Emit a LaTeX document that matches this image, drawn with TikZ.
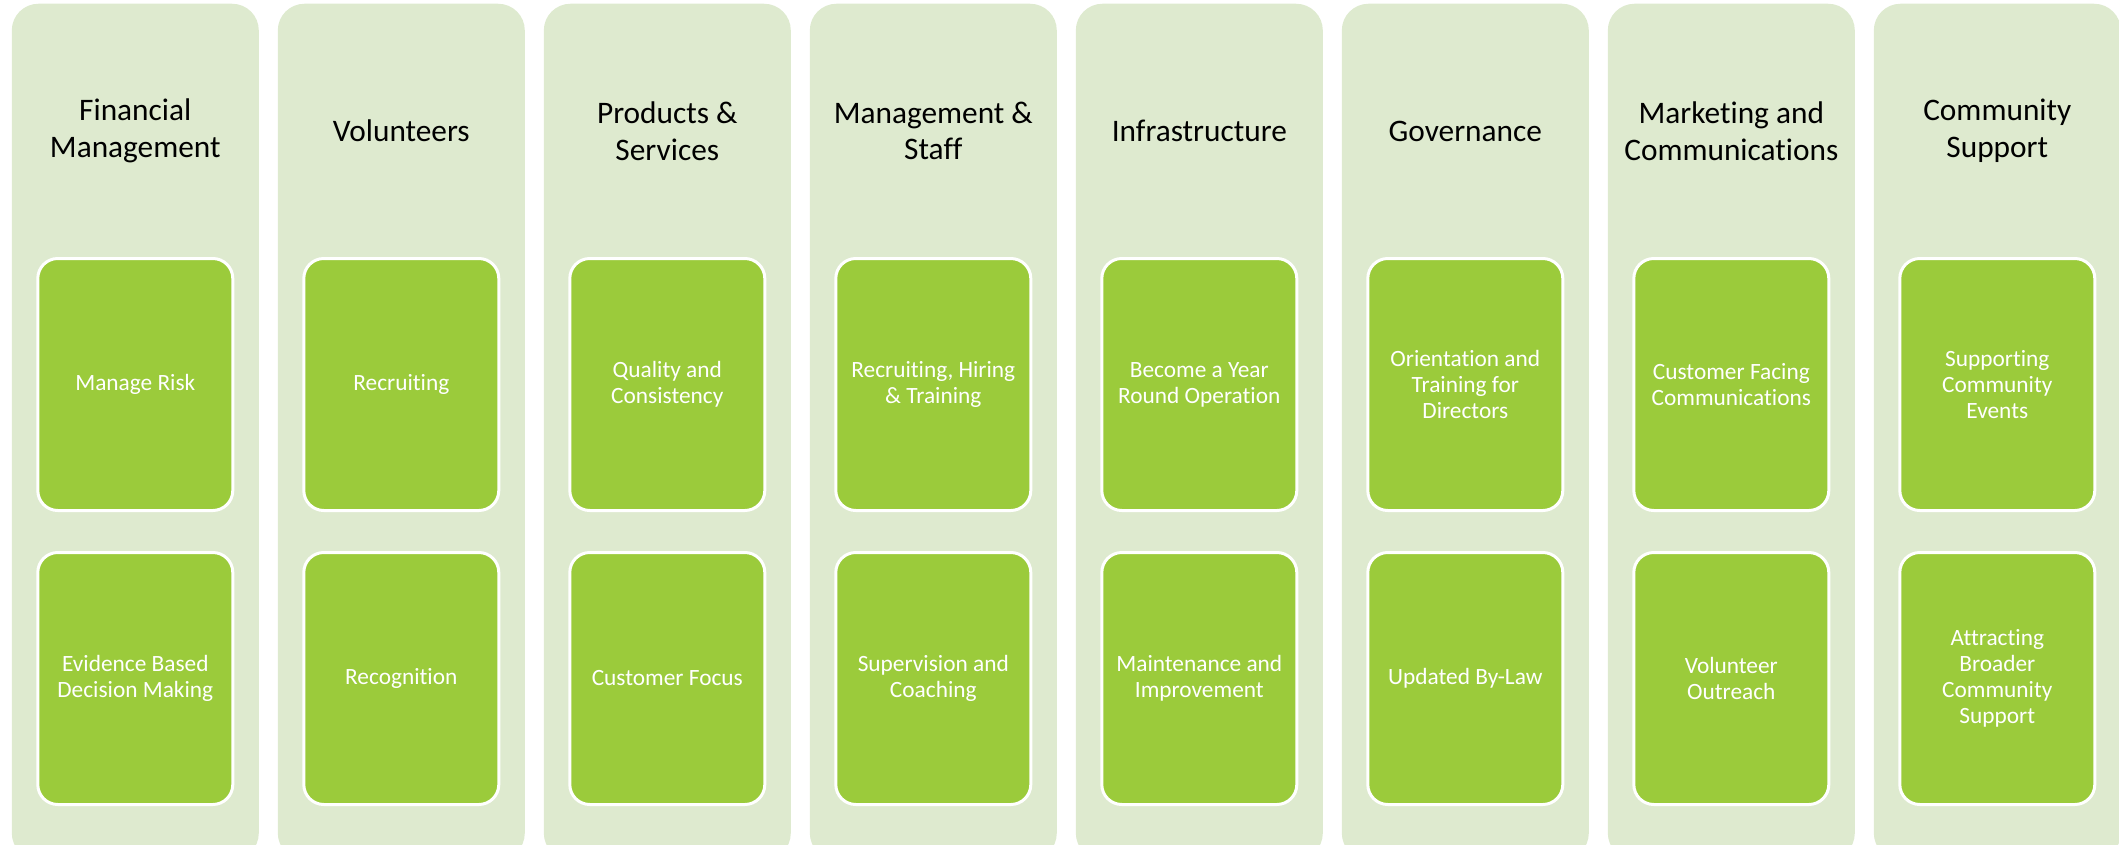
\documentclass[tikz,border=0pt]{standalone}
\usepackage{tikz}
\usepackage{xcolor}
\usepackage{fontspec}
\setmainfont[Ligatures=NoCommon]{Carlito}

\definecolor{paleGreen}{RGB}{222,234,207}
\definecolor{leafGreen}{RGB}{155,203,59}

\begin{document}
\begin{tikzpicture}[x=0.75pt,y=0.75pt,yscale=-1,xscale=1,
  column/.style={fill=paleGreen, rounded corners=20pt, minimum width=185.25pt, minimum height=642pt, inner sep=0pt},
  header/.style={align=center, inner sep=0pt, text=black, font=\fontsize{23.5}{27.4}\selectfont},
  item/.style={fill=leafGreen, draw=white, line width=2.25pt, rounded corners=15pt, minimum width=146.25pt, minimum height=189pt, inner sep=2pt, align=center, text=white, font=\fontsize{17.5}{19.5}\selectfont}]
\useasboundingbox (0,0) rectangle (2119,845);
\clip (0,0) rectangle (2119,845);

%Shape: Columns
\node [column] (col1) at (135.3,431.75) {};
\node [column] (col2) at (401.3,431.75) {};
\node [column] (col3) at (667.3,431.75) {};
\node [column] (col4) at (933.3,431.75) {};
\node [column] (col5) at (1199.3,431.75) {};
\node [column] (col6) at (1465.3,431.75) {};
\node [column] (col7) at (1731.3,431.75) {};
\node [column] (col8) at (1997.3,431.75) {};

% Text Node
\node [header] (head1) at (135.3,131) {Financial\\Management};
\node [header] (head2) at (401.3,131) {Volunteers};
\node [header] (head3) at (667.3,131) {Products \&\\Services};
\node [header] (head4) at (933.3,131) {Management \&\\Staff};
\node [header] (head5) at (1199.3,131) {Infrastructure};
\node [header] (head6) at (1465.3,131) {Governance};
\node [header] (head7) at (1731.3,131) {Marketing and\\Communications};
\node [header] (head8) at (1997.3,131) {Community\\Support};

%Shape: Upper boxes
\node [item] (up1) at (135.3,384.5) {Manage Risk};
\node [item] (up2) at (401.3,384.5) {Recruiting};
\node [item] (up3) at (667.3,384.5) {Quality and\\Consistency};
\node [item] (up4) at (933.3,384.5) {Recruiting, Hiring\\\& Training};
\node [item] (up5) at (1199.3,384.5) {Become a Year\\Round Operation};
\node [item] (up6) at (1465.3,384.5) {Orientation and\\Training for\\Directors};
\node [item] (up7) at (1731.3,384.5) {Customer Facing\\Communications};
\node [item] (up8) at (1997.3,384.5) {Supporting\\Community\\Events};

%Shape: Lower boxes
\node [item] (low1) at (135.3,678.5) {Evidence Based\\Decision Making};
\node [item] (low2) at (401.3,678.5) {Recognition};
\node [item] (low3) at (667.3,678.5) {Customer Focus};
\node [item] (low4) at (933.3,678.5) {Supervision and\\Coaching};
\node [item] (low5) at (1199.3,678.5) {Maintenance and\\Improvement};
\node [item] (low6) at (1465.3,678.5) {Updated By-Law};
\node [item] (low7) at (1731.3,678.5) {Volunteer\\Outreach};
\node [item] (low8) at (1997.3,678.5) {Attracting\\Broader\\Community\\Support};

\end{tikzpicture}
\end{document}
